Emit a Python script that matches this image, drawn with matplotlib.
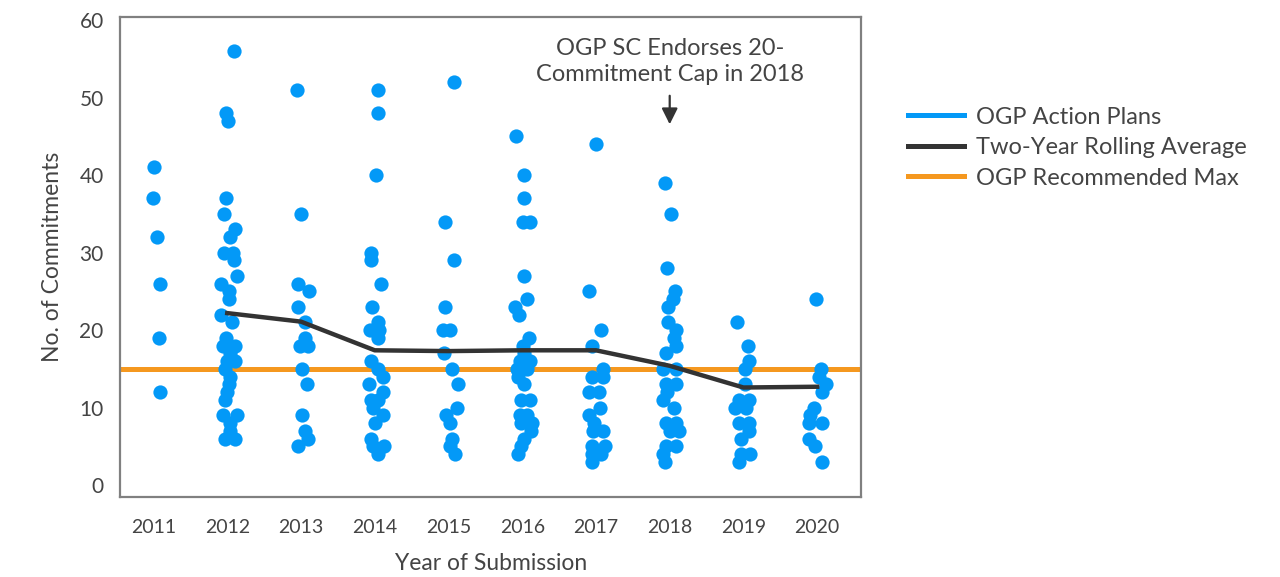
import matplotlib
matplotlib.use("Agg")
import matplotlib.pyplot as plt
from matplotlib.lines import Line2D

plt.rcParams['font.family'] = ['Lato', 'DejaVu Sans']

# commitments per action plan, with horizontal jitter (year units)
c2011 = [41, 37, 32, 26, 19, 12]
j2011 = [0.0, -0.01, 0.05, 0.09, 0.07, 0.09]
c2012 = [56, 48, 47, 37, 35, 33, 32, 30, 30, 29, 27, 26, 25, 24, 22, 21, 19, 18, 18, 17,
         16, 16, 15, 14, 13, 12, 11, 9, 9, 8, 7, 6, 6]
j2012 = [0.09, -0.02, 0.01, -0.02, -0.05, 0.11, 0.04, -0.05, 0.08, 0.09, 0.13, -0.08, 0.03, 0.03,
         -0.08, 0.07, -0.02, -0.06, 0.10, 0.04, 0.0, 0.11, -0.03, 0.04, 0.02, -0.01, -0.03, -0.06,
         0.13, 0.04, 0.04, -0.03, 0.10]
c2013 = [51, 35, 26, 25, 23, 21, 19, 18, 18, 15, 13, 9, 7, 6, 5]
j2013 = [-0.06, 0.0, -0.04, 0.11, -0.04, 0.06, 0.05, -0.01, 0.09, 0.02, 0.08, 0.02, 0.05, 0.09, -0.04]
c2014 = [51, 48, 40, 30, 29, 26, 23, 21, 20, 20, 19, 16, 15, 14, 13, 12, 11, 11, 10, 9, 8, 6, 5, 5, 4]
j2014 = [0.05, 0.04, 0.02, -0.05, -0.05, 0.08, -0.04, 0.04, -0.06, 0.06, 0.04, -0.05, 0.05, 0.11,
         -0.08, 0.11, -0.05, 0.05, -0.02, 0.11, 0.0, -0.05, 0.13, -0.02, 0.04]
c2015 = [52, 34, 29, 23, 20, 20, 17, 15, 13, 10, 9, 8, 6, 5, 4]
j2015 = [0.07, -0.05, 0.07, -0.05, -0.07, 0.02, -0.06, 0.05, 0.13, 0.11, -0.03, 0.02, 0.05, 0.02, 0.09]
c2016 = [45, 40, 37, 34, 34, 27, 24, 23, 22, 19, 18, 17, 16, 16, 15, 15, 14, 13, 11, 11,
         9, 9, 8, 8, 7, 6, 5, 4]
j2016 = [-0.08, 0.03, 0.02, 0.01, 0.10, 0.02, 0.06, -0.10, -0.05, 0.09, 0.01, 0.02, 0.11, -0.03,
         -0.07, 0.06, -0.06, 0.03, -0.02, 0.11, -0.03, 0.06, -0.02, 0.13, 0.12, 0.03, -0.02, -0.06]
c2017 = [44, 25, 20, 18, 15, 14, 14, 12, 12, 10, 9, 8, 7, 7, 5, 5, 4, 4, 3]
j2017 = [0.0, -0.09, 0.07, -0.06, 0.09, -0.06, 0.09, -0.10, 0.04, 0.06, -0.10, -0.03, 0.09, -0.04,
         0.12, -0.06, 0.07, -0.06, -0.06]
c2018 = [39, 35, 28, 25, 24, 23, 21, 20, 19, 18, 17, 15, 15, 13, 13, 12, 11, 10, 8, 8, 7, 7, 5, 5, 4, 3]
j2018 = [-0.06, 0.02, -0.04, 0.07, 0.04, -0.02, -0.02, 0.09, 0.06, 0.09, -0.05, 0.09, -0.09, -0.05,
         0.09, -0.03, -0.09, 0.06, -0.05, 0.09, 0.13, 0.0, -0.05, 0.09, -0.09, -0.06]
c2019 = [21, 18, 16, 15, 13, 11, 11, 10, 10, 8, 8, 7, 6, 4, 4, 3]
j2019 = [-0.09, 0.06, 0.07, 0.02, 0.02, -0.06, 0.08, -0.11, 0.03, -0.06, 0.08, 0.07, -0.03, -0.03, 0.09, -0.06]
c2020 = [24, 15, 14, 13, 12, 10, 9, 8, 8, 6, 5, 3]
j2020 = [-0.01, 0.05, 0.03, 0.12, 0.07, -0.04, -0.10, -0.11, 0.07, -0.11, -0.03, 0.07]

years = [2011, 2012, 2013, 2014, 2015, 2016, 2017, 2018, 2019, 2020]
counts = [c2011, c2012, c2013, c2014, c2015, c2016, c2017, c2018, c2019, c2020]
jitters = [j2011, j2012, j2013, j2014, j2015, j2016, j2017, j2018, j2019, j2020]

avg_years = [2012, 2013, 2014, 2015, 2016, 2017, 2018, 2019, 2020]
rolling_avg = [22.2, 21.1, 17.4, 17.3, 17.4, 17.4, 15.4, 12.6, 12.7]
recommended_max = 15

BLUE = '#0399f7'
DARK = '#333333'
ORANGE = '#f5981f'
TEXT = '#444444'

fig = plt.figure(figsize=(12.8, 5.77), dpi=100)
ax = fig.add_axes([0.094, 0.139, 0.579, 0.8315])

for yr, cs, js in zip(years, counts, jitters):
    ax.scatter([yr + j for j in js], cs, s=105, color=BLUE, linewidths=0, zorder=3)

ax.axhline(recommended_max, color=ORANGE, lw=3.6, zorder=2)
ax.plot(avg_years, rolling_avg, color=DARK, lw=3.2, zorder=4)

ax.set_xlim(2010.55, 2020.6)
ax.set_ylim(-1.5, 60.4)
ax.set_xticks(years)
ax.set_yticks(range(0, 61, 10))
ax.tick_params(length=0, labelsize=14, colors=TEXT)
ax.tick_params(axis='x', pad=16)
ax.tick_params(axis='y', labelsize=15, pad=12)
for sp in ax.spines.values():
    sp.set_color('#808080')
    sp.set_linewidth(1.6)

ax.set_xlabel('Year of Submission', fontsize=16.5, color=TEXT, labelpad=12)
ax.set_ylabel('No. of Commitments', fontsize=16.5, color=TEXT, labelpad=12)

# annotation about the 20-commitment cap
ax.text(2018, 54.7, 'OGP SC Endorses 20-\nCommitment Cap in 2018', ha='center', va='center',
        fontsize=17, color=TEXT, linespacing=1.3)
ax.annotate('', xy=(2018, 46.2), xytext=(2018, 50.6),
            arrowprops=dict(arrowstyle='-|>', color=DARK, lw=1.6, mutation_scale=24))

handles = [Line2D([], [], color=BLUE, lw=3.6),
           Line2D([], [], color=DARK, lw=3.6),
           Line2D([], [], color=ORANGE, lw=3.6)]
labels = ['OGP Action Plans', 'Two-Year Rolling Average', 'OGP Recommended Max']
leg = fig.legend(handles, labels, loc='upper left', bbox_to_anchor=(0.709, 0.815), frameon=False,
                 fontsize=17, handlelength=2.4, handletextpad=0.5, labelspacing=0.4,
                 borderpad=0, borderaxespad=0)
for t in leg.get_texts():
    t.set_color(TEXT)

fig.savefig('out.png', dpi=100)
